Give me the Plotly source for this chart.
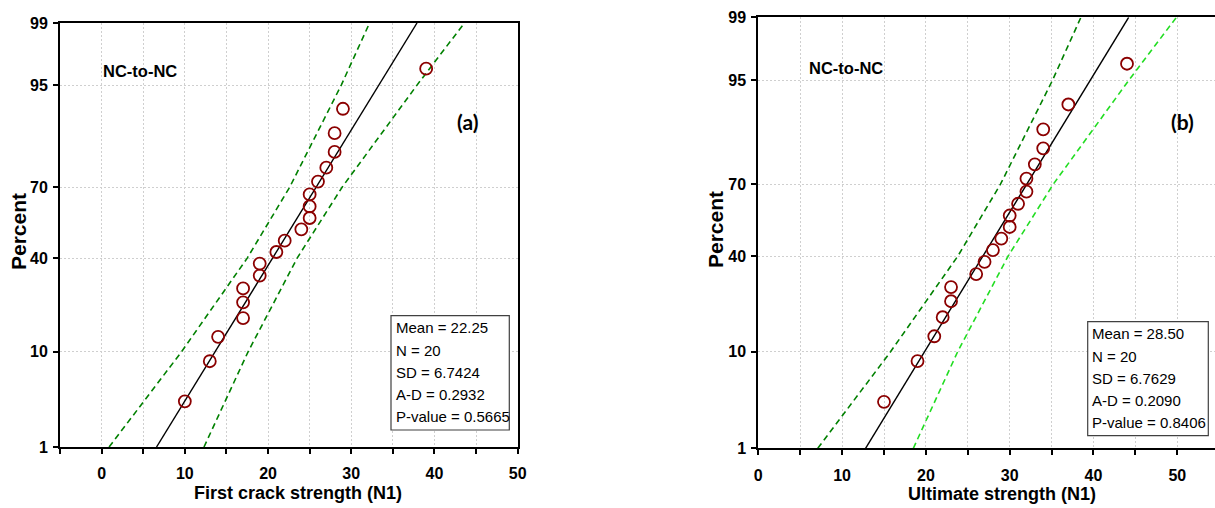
import math
import plotly.graph_objects as go

# ---------------- data ----------------
# sorted observations (panel a: first crack strength, panel b: ultimate strength)
x_a = [10, 13, 14, 17, 17, 17, 19, 19, 21, 22, 24, 25, 25, 25, 26, 27, 28, 28, 29, 39]
x_b = [15, 19, 21, 22, 23, 23, 26, 27, 28, 29, 30, 30, 31, 32, 32, 33, 34, 34, 37, 44]
# plotted percent of each point
pct_pts = [3.4, 8.3, 13.2, 18.1, 23.0, 27.9, 32.8, 37.7, 42.6, 47.5,
           52.5, 57.4, 62.3, 67.2, 72.1, 77.0, 81.9, 86.8, 91.7, 96.6]

# fitted line end points (percent, x)
fit_pct = [1, 99]
fit_a = [6.6, 37.9]
fit_b = [12.8, 44.2]

# 95% confidence bands, x read at these percent levels
band_pct = [1, 10, 40, 70, 95, 99]
band_a_lo = [0.9, 9.6, 17.5, 22.6, 28.8, 32.2]
band_a_hi = [12.3, 17.6, 23.5, 28.9, 37.9, 43.6]
band_b_lo = [7.1, 15.8, 23.8, 28.9, 35.1, 38.5]
band_b_hi = [18.5, 23.8, 29.8, 35.2, 44.2, 49.9]

y_tick_pct = [1, 10, 40, 70, 95, 99]
x_tick_vals_a = [-5, 0, 5, 10, 15, 20, 25, 30, 35, 40, 45, 50]
x_tick_vals_b = [0, 5, 10, 15, 20, 25, 30, 35, 40, 45, 50]

stats_a = ["Mean = 22.25", "N = 20", "SD = 6.7424", "A-D = 0.2932", "P-value = 0.5665"]
stats_b = ["Mean = 28.50", "N = 20", "SD = 6.7629", "A-D = 0.2090", "P-value = 0.8406"]


# ---------------- probability scale ----------------
def norm_ppf(p):
    lo, hi = -10.0, 10.0
    for _ in range(200):
        mid = 0.5 * (lo + hi)
        if 0.5 * (1 + math.erf(mid / math.sqrt(2))) < p:
            lo = mid
        else:
            hi = mid
    return 0.5 * (lo + hi)


def z(pcts):
    return [norm_ppf(v / 100.0) for v in pcts]


W, H = 1215, 508
SANS = "Liberation Sans, Arial, sans-serif"
RED = "#8b0000"
DKGREEN = "#008000"
LTGREEN = "#22dd22"

fig = go.Figure()


def add_panel(xs, fit, lo, hi, hi_color, xa, ya):
    fig.add_trace(go.Scatter(x=lo, y=z(band_pct), mode="lines", xaxis=xa, yaxis=ya,
                             line=dict(color=DKGREEN, width=1.6, dash="6px,4px"),
                             showlegend=False, hoverinfo="skip"))
    fig.add_trace(go.Scatter(x=hi, y=z(band_pct), mode="lines", xaxis=xa, yaxis=ya,
                             line=dict(color=hi_color, width=1.6, dash="6px,4px"),
                             showlegend=False, hoverinfo="skip"))
    fig.add_trace(go.Scatter(x=fit, y=z(fit_pct), mode="lines", xaxis=xa, yaxis=ya,
                             line=dict(color="black", width=1.4),
                             showlegend=False, hoverinfo="skip"))
    fig.add_trace(go.Scatter(x=xs, y=z(pct_pts), mode="markers", xaxis=xa, yaxis=ya,
                             marker=dict(symbol="circle-open", size=12, color=RED,
                                         line=dict(color=RED, width=1.8)),
                             showlegend=False))


add_panel(x_a, fit_a, band_a_lo, band_a_hi, DKGREEN, "x", "y")
add_panel(x_b, fit_b, band_b_lo, band_b_hi, LTGREEN, "x2", "y2")

tickfont = dict(family=SANS, size=16, color="black", weight="bold")
grid = dict(showgrid=True, gridcolor="#cfcfcf", gridwidth=1, griddash="2px,2px")


def xaxis(vals, rng, dom, anchor, mirror):
    return dict(domain=dom, range=rng, anchor=anchor, tickmode="array", tickvals=vals,
                ticktext=[str(v) if v % 10 == 0 and v >= 0 else "" for v in vals],
                ticks="outside", ticklen=5, tickwidth=1.5, tickcolor="black",
                showline=True, linecolor="black", linewidth=2, mirror=mirror,
                zeroline=False, tickfont=tickfont, ticklabelstandoff=6,
                automargin=False, **grid)


def yaxis(dom, anchor, mirror):
    return dict(domain=dom, range=[norm_ppf(0.01), norm_ppf(0.99)], anchor=anchor,
                tickmode="array", tickvals=z(y_tick_pct), ticktext=[str(v) for v in y_tick_pct],
                ticks="outside", ticklen=5, tickwidth=1.5, tickcolor="black",
                showline=True, linecolor="black", linewidth=2, mirror=mirror,
                zeroline=False, tickfont=tickfont, ticklabelstandoff=2,
                automargin=False, **grid)


fig.update_layout(
    width=W, height=H, margin=dict(l=0, r=0, t=0, b=0, autoexpand=False),
    paper_bgcolor="white", plot_bgcolor="white",
    xaxis=xaxis(x_tick_vals_a, [-5, 50], [60 / W, 517.7 / W], "y", True),
    yaxis=yaxis([1 - 447 / H, 1 - 23 / H], "x", True),
    xaxis2=xaxis(x_tick_vals_b, [0, 54.5], [758.3 / W, 1.0], "y2", True),
    yaxis2=yaxis([1 - 448.3 / H, 1 - 17.3 / H], "x2", False),
)


def px(xp, yp):
    return xp / W, 1 - yp / H


ann = []


def text(xp, yp, s, size, family=SANS, weight="bold", xanchor="center", angle=0):
    x, y = px(xp, yp)
    ann.append(dict(x=x, y=y, xref="paper", yref="paper", text=s, showarrow=False,
                    xanchor=xanchor, yanchor="middle", textangle=angle,
                    font=dict(family=family, size=size, color="black", weight=weight)))


# axis titles
text(298, 493, "First crack strength (N1)", 18)
text(1002, 494, "Ultimate strength (N1)", 18)
text(18, 232, "Percent", 21, angle=-90)
text(715, 230, "Percent", 21, angle=-90)
# panel labels
text(140, 71, "NC-to-NC", 16.5)
text(846, 68, "NC-to-NC", 16.5)
text(467, 121, "(a)", 21, family="Lato, Open Sans, sans-serif")
text(1182, 121, "(b)", 21, family="Lato, Open Sans, sans-serif")

# stats boxes
shapes = []
for (x0, y0, x1, y1, lines, lx, ly) in [
    (391, 315.7, 509.3, 430, stats_a, 393.5, [327, 350, 372.5, 394.5, 416.7]),
    (1087.7, 321.7, 1208.3, 435.7, stats_b, 1090, [333.3, 356, 378.3, 400.7, 422.7]),
]:
    a0, b0 = px(x0, y1)
    a1, b1 = px(x1, y0)
    shapes.append(dict(type="rect", xref="paper", yref="paper", x0=a0, y0=b0, x1=a1, y1=b1,
                       line=dict(color="#404040", width=1.2), fillcolor="white", layer="above"))
    for s, yy in zip(lines, ly):
        text(lx, yy, s, 15, weight="normal", xanchor="left")

fig.update_layout(annotations=ann, shapes=shapes)
fig.write_html("out.html", config={"displayModeBar": False},
               post_script="document.body.style.margin='0';document.body.style.overflow='hidden';")
